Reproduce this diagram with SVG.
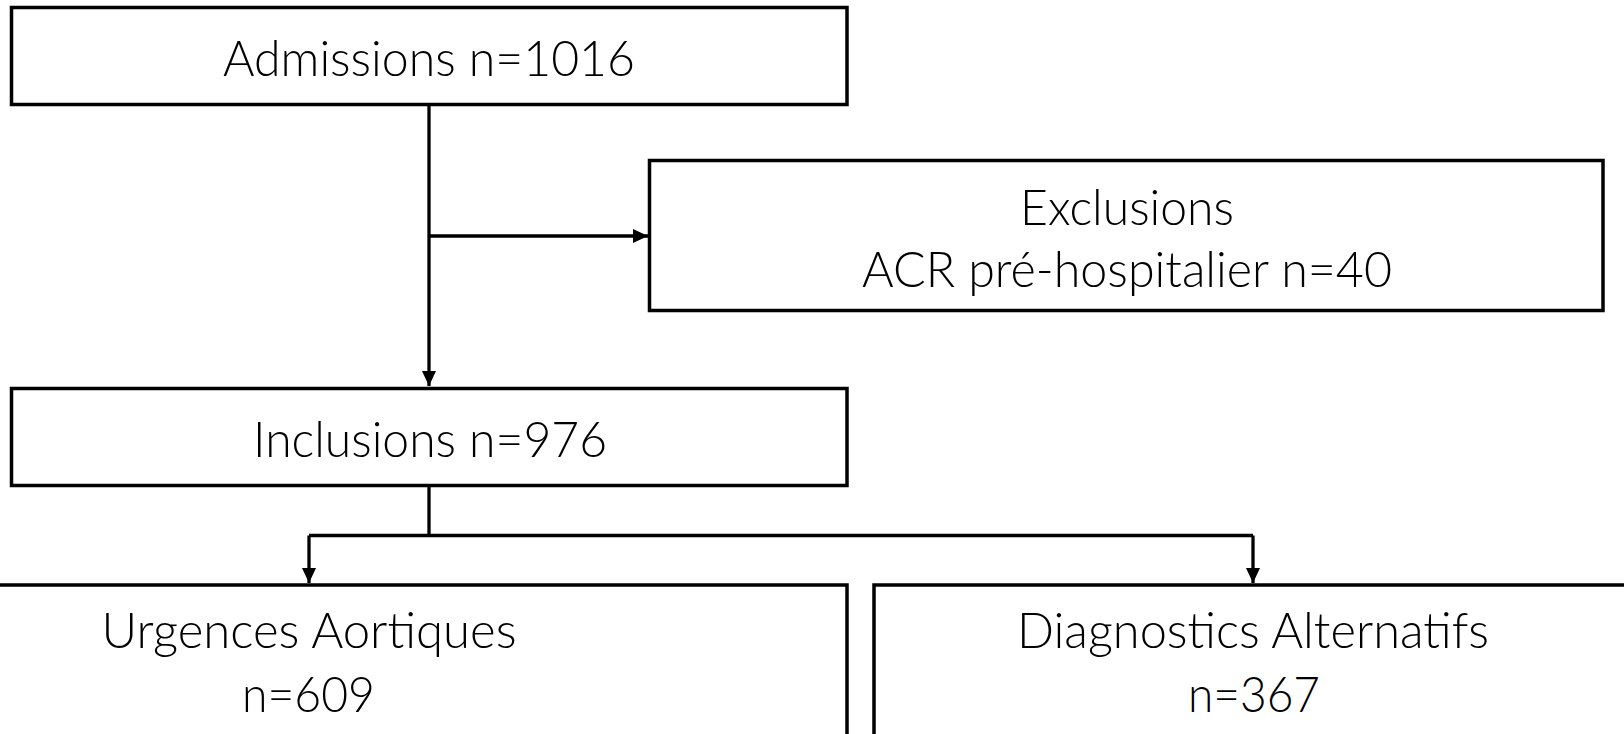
<svg xmlns="http://www.w3.org/2000/svg" width="1624" height="734" viewBox="0 0 1624 734">
<style>
.box{fill:#fff;stroke:#000;stroke-width:3.5}
.t{font-family:Lato,"Open Sans","Liberation Sans",sans-serif;font-weight:300;font-size:50px;fill:#000;text-anchor:middle}
.c{fill:none;stroke:#000;stroke-width:3.3}
</style>
<defs>
<marker id="ah" markerUnits="userSpaceOnUse" markerWidth="16" markerHeight="14" refX="15" refY="7" orient="auto">
<path d="M0,0 L15,7 L0,14 Z" fill="#000"/>
</marker>
</defs>
<rect width="1624" height="734" fill="#fff"/>
<g id="connectors">
<path class="c" d="M429,105 V386" marker-end="url(#ah)"/>
<path class="c" d="M429,236 H648" marker-end="url(#ah)"/>
<path class="c" d="M429,486 V535.5"/>
<path class="c" d="M309,535.5 H1253"/>
<path class="c" d="M309,535.5 V583" marker-end="url(#ah)"/>
<path class="c" d="M1253,535.5 V583" marker-end="url(#ah)"/>
</g>
<g id="admissions">
<rect class="box" x="11.5" y="7.5" width="835.5" height="97"/>
<text class="t" x="429" y="75.5" textLength="412" lengthAdjust="spacingAndGlyphs">Admissions n=1016</text>
</g>
<g id="exclusions">
<rect class="box" x="649.5" y="160.5" width="953.5" height="150"/>
<text class="t" x="1127" y="224.5" textLength="214" lengthAdjust="spacingAndGlyphs">Exclusions</text>
<text class="t" x="1127" y="287" textLength="530" lengthAdjust="spacingAndGlyphs">ACR pré-hospitalier n=40</text>
</g>
<g id="inclusions">
<rect class="box" x="11.5" y="388.5" width="835.5" height="97"/>
<text class="t" x="430" y="456.5" textLength="354" lengthAdjust="spacingAndGlyphs">Inclusions n=976</text>
</g>
<g id="urgences">
<rect class="box" x="-10" y="585" width="857" height="170"/>
<text class="t" x="309" y="648" textLength="415" lengthAdjust="spacingAndGlyphs">Urgences Aortiques</text>
<text class="t" x="308.5" y="711.5" textLength="133" lengthAdjust="spacingAndGlyphs">n=609</text>
</g>
<g id="diagnostics">
<rect class="box" x="874" y="585" width="770" height="170"/>
<text class="t" x="1253" y="648" textLength="472" lengthAdjust="spacingAndGlyphs">Diagnostics Alternatifs</text>
<text class="t" x="1254" y="711.5" textLength="132" lengthAdjust="spacingAndGlyphs">n=367</text>
</g>
</svg>
